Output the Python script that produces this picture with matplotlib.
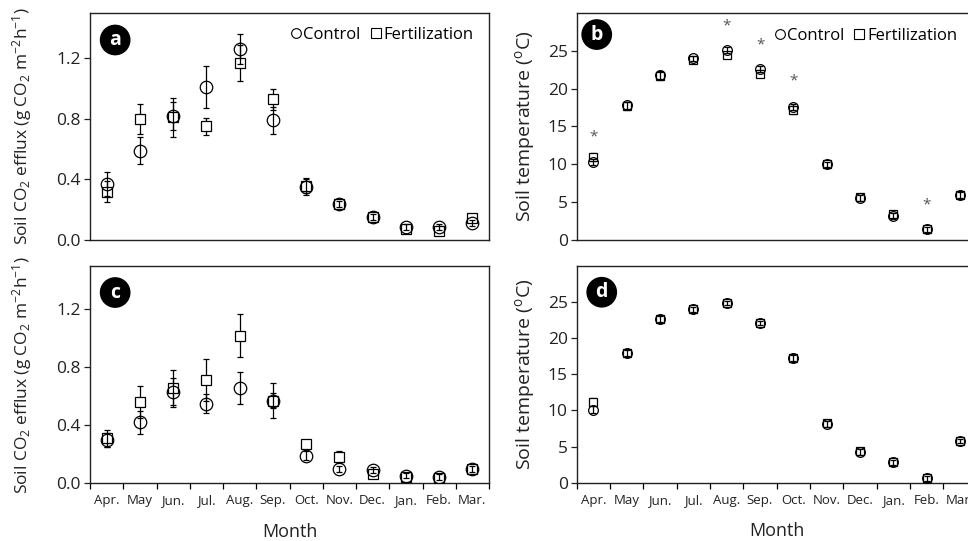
import numpy as np
import matplotlib
matplotlib.use("Agg")
import matplotlib.pyplot as plt
from matplotlib.lines import Line2D

plt.rcParams['font.family'] = ['Open Sans', 'DejaVu Sans']
plt.rcParams['mathtext.fontset'] = 'custom'
plt.rcParams['mathtext.rm'] = 'Open Sans'
plt.rcParams['mathtext.it'] = 'Open Sans'

months = ["Apr.", "May", "Jun.", "Jul.", "Aug.", "Sep.", "Oct.", "Nov.", "Dec.", "Jan.", "Feb.", "Mar."]

# panel a: soil CO2 efflux, site 1
a_ctrl = [0.37, 0.59, 0.82, 1.01, 1.26, 0.79, 0.35, 0.24, 0.155, 0.085, 0.085, 0.11]
a_ctrl_err = [0.08, 0.09, 0.09, 0.14, 0.10, 0.09, 0.05, 0.02, 0.02, 0.02, 0.02, 0.02]
a_fert = [0.32, 0.80, 0.81, 0.75, 1.17, 0.93, 0.36, 0.24, 0.155, 0.07, 0.06, 0.145]
a_fert_err = [0.07, 0.10, 0.13, 0.055, 0.12, 0.07, 0.05, 0.02, 0.02, 0.02, 0.03, 0.02]

# panel b: soil temperature, site 1
b_ctrl = [10.3, 17.8, 21.8, 24.0, 25.1, 22.6, 17.6, 10.0, 5.6, 3.2, 1.4, 5.9]
b_ctrl_err = [0.4, 0.5, 0.5, 0.3, 0.4, 0.4, 0.4, 0.3, 0.4, 0.4, 0.3, 0.4]
b_fert = [11.0, 17.7, 21.7, 23.85, 24.5, 22.0, 17.2, 10.0, 5.7, 3.4, 1.4, 6.0]
b_fert_err = [0.5, 0.5, 0.5, 0.3, 0.4, 0.4, 0.5, 0.3, 0.4, 0.4, 0.3, 0.4]
b_sig_month = [0, 4, 5, 6, 10]
b_sig_y = [13.6, 28.3, 25.8, 21.0, 4.6]

# panel c: soil CO2 efflux, site 2
c_ctrl = [0.30, 0.42, 0.63, 0.55, 0.66, 0.57, 0.19, 0.10, 0.09, 0.053, 0.046, 0.097]
c_ctrl_err = [0.05, 0.08, 0.10, 0.065, 0.11, 0.05, 0.03, 0.02, 0.02, 0.02, 0.02, 0.02]
c_fert = [0.31, 0.56, 0.66, 0.71, 1.02, 0.57, 0.27, 0.18, 0.064, 0.046, 0.037, 0.10]
c_fert_err = [0.06, 0.11, 0.12, 0.145, 0.15, 0.12, 0.03, 0.04, 0.02, 0.02, 0.02, 0.02]

# panel d: soil temperature, site 2
d_ctrl = [10.1, 18.0, 22.7, 24.0, 24.9, 22.1, 17.3, 8.1, 4.2, 2.8, 0.6, 5.75]
d_ctrl_err = [0.5, 0.4, 0.4, 0.3, 0.3, 0.3, 0.4, 0.4, 0.4, 0.3, 0.3, 0.3]
d_fert = [11.2, 18.0, 22.6, 24.0, 24.9, 22.1, 17.3, 8.3, 4.4, 2.8, 0.6, 5.8]
d_fert_err = [0.5, 0.4, 0.4, 0.3, 0.3, 0.3, 0.4, 0.4, 0.4, 0.3, 0.3, 0.3]

flux_label = "Soil CO$_2$ efflux (g CO$_2$ m$^{-2}$h$^{-1}$)"
temp_label = "Soil temperature ($^{\\mathrm{o}}$C)"

fig = plt.figure(figsize=(9.68, 5.41), dpi=100)
axa = fig.add_axes([0.093, 0.5564, 0.4122, 0.4196])
axb = fig.add_axes([0.5958, 0.5564, 0.4132, 0.4196])
axc = fig.add_axes([0.093, 0.1067, 0.4122, 0.4016])
axd = fig.add_axes([0.5958, 0.1078, 0.4132, 0.4005])

x = np.arange(len(months)) + 0.5


def draw(ax, ctrl, ctrl_err, fert, fert_err, ms):
    ax.errorbar(x, fert, yerr=fert_err, fmt='s', ms=ms * 0.85, mfc='white', mec='black',
                mew=0.9, ecolor='black', elinewidth=0.9, capsize=2.5, capthick=0.9, zorder=3)
    ax.errorbar(x, ctrl, yerr=ctrl_err, fmt='o', ms=ms, mfc='none', mec='black',
                mew=0.9, ecolor='black', elinewidth=0.9, capsize=2.5, capthick=0.9, zorder=4)


def style(ax, ylim, yticks, ytl, bottom, letter, lx, ly):
    ax.set_xlim(0, 12)
    ax.set_ylim(*ylim)
    ax.set_yticks(yticks)
    ax.set_yticklabels(ytl)
    for s in ax.spines.values():
        s.set_linewidth(1.0)
        s.set_color('#222222')
    ax.tick_params(axis='y', direction='out', length=4.5, width=0.9, labelsize=12.5, pad=2, colors='#222222')
    if bottom:
        ax.set_xticks(np.arange(13))
        ax.set_xticklabels([])
        ax.set_xticks(x, minor=True)
        ax.set_xticklabels(months, minor=True)
        ax.tick_params(axis='x', which='major', direction='out', length=4.5, width=0.9)
        ax.tick_params(axis='x', which='minor', length=0, labelsize=9.5, pad=8, colors='#222222')
        ax.set_xlabel("Month", fontsize=13, color='#222222', labelpad=11)
    else:
        ax.set_xticks([])
    ax.text(lx, ly, letter, transform=ax.transAxes, ha='center', va='center',
            fontsize=14, fontweight='bold', color='white',
            bbox=dict(boxstyle='circle,pad=0.24', fc='black', ec='black'))


def legend(ax, bx, by):
    h = [Line2D([], [], marker='o', ls='none', mfc='none', mec='black', ms=7, mew=0.8),
         Line2D([], [], marker='s', ls='none', mfc='none', mec='black', ms=6.5, mew=0.8)]
    ax.legend(h, ["Control", "Fertilization"], ncol=2, frameon=False, loc='upper right',
              bbox_to_anchor=(bx, by), borderaxespad=0.3, handlelength=0.6,
              handletextpad=0.15, columnspacing=0.6, fontsize=12)


draw(axa, a_ctrl, a_ctrl_err, a_fert, a_fert_err, 9)
draw(axb, b_ctrl, b_ctrl_err, b_fert, b_fert_err, 7)
draw(axc, c_ctrl, c_ctrl_err, c_fert, c_fert_err, 9)
draw(axd, d_ctrl, d_ctrl_err, d_fert, d_fert_err, 7)

for m, yy in zip(b_sig_month, b_sig_y):
    axb.text(m + 0.5, yy, "*", ha='center', va='center', fontsize=11, color='#555555')

flux_ticks = [0.0, 0.4, 0.8, 1.2]
flux_tl = ["0.0", "0.4", "0.8", "1.2"]
temp_ticks = [0, 5, 10, 15, 20, 25]
temp_tl = ["0", "5", "10", "15", "20", "25"]

style(axa, (0, 1.5), flux_ticks, flux_tl, False, "a", 0.063, 0.881)
style(axb, (0, 30), temp_ticks, temp_tl, False, "b", 0.05, 0.905)
style(axc, (0, 1.5), flux_ticks, flux_tl, True, "c", 0.063, 0.878)
style(axd, (0, 30), temp_ticks, temp_tl, True, "d", 0.0625, 0.879)

legend(axa, 0.99, 0.99)
legend(axb, 0.98, 0.985)

for ax in (axa, axc):
    ax.set_ylabel(flux_label, fontsize=12.5, color='#222222')
    ax.yaxis.set_label_coords(-0.14, 0.5)
for ax in (axb, axd):
    ax.set_ylabel(temp_label, fontsize=14, color='#222222')
    ax.yaxis.set_label_coords(-0.10, 0.5)

fig.savefig("out.png", dpi=100)
